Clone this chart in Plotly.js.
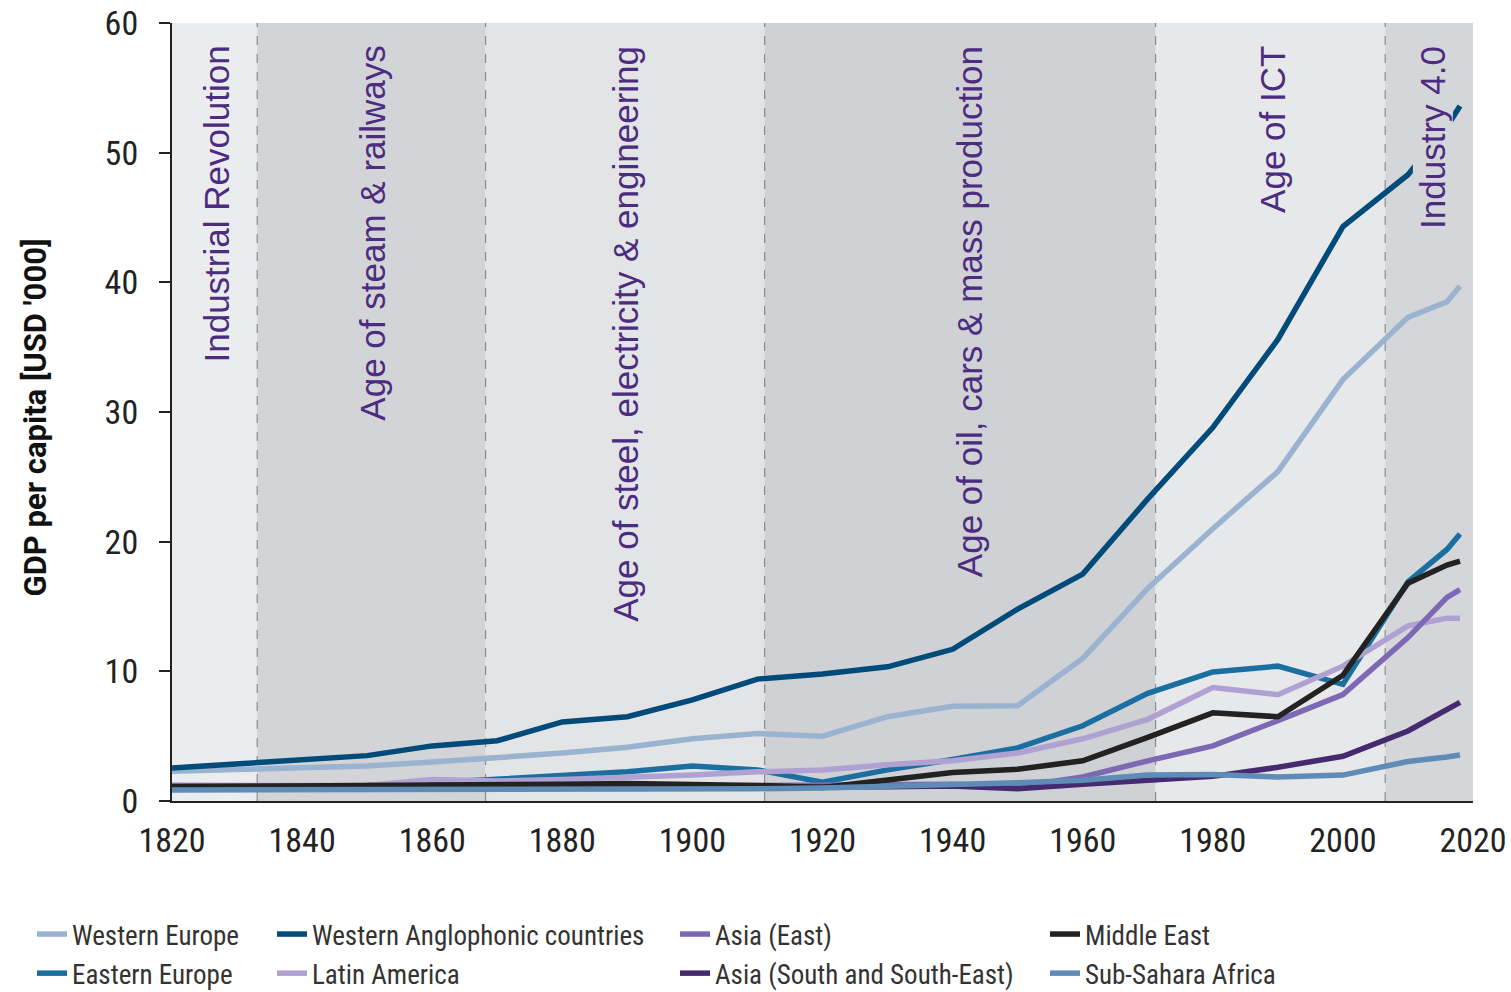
<!DOCTYPE html>
<html>
<head>
<meta charset="utf-8">
<script src="https://cdn.plot.ly/plotly-3.0.1.min.js"></script>
<style>
html,body{margin:0;padding:0;background:#fff;}
#chart{width:1511px;height:992px;}
</style>
</head>
<body>
<div id="chart"></div>
<script>
// ---- data ----
const years = [1820,1850,1860,1870,1880,1890,1900,1910,1920,1930,1940,1950,1960,1970,1980,1990,2000,2010,2016,2018];

const westernEurope     = [2.3,2.7,3.0,3.3,3.7,4.15,4.8,5.2,5.0,6.5,7.3,7.35,11.0,16.4,21.0,25.4,32.5,37.3,38.5,39.7];
const westernAnglophone = [2.55,3.5,4.25,4.65,6.1,6.5,7.8,9.4,9.8,10.35,11.7,14.8,17.5,23.3,28.8,35.6,44.3,48.3,52.0,53.6];
const easternEurope     = [1.0,1.2,1.4,1.7,2.0,2.25,2.7,2.4,1.45,2.4,3.2,4.1,5.8,8.3,9.95,10.4,9.0,16.9,19.4,20.6];
const latinAmerica      = [1.2,1.2,1.65,1.55,1.65,1.8,2.0,2.25,2.4,2.8,3.1,3.7,4.8,6.3,8.75,8.2,10.4,13.5,14.1,14.1];
const asiaEast          = [1.2,1.15,1.1,1.1,1.1,1.1,1.15,1.2,1.2,1.25,1.3,1.1,1.85,3.1,4.25,6.2,8.2,12.6,15.7,16.3];
const asiaSouth         = [1.0,1.0,1.0,1.0,1.0,1.0,1.0,1.05,1.05,1.1,1.15,0.95,1.3,1.55,1.9,2.6,3.45,5.4,7.0,7.6];
const middleEast        = [1.1,1.15,1.2,1.25,1.3,1.35,1.3,1.2,1.05,1.6,2.2,2.45,3.1,4.9,6.8,6.5,9.7,16.8,18.2,18.5];
const subSaharaAfrica   = [0.85,0.85,0.85,0.85,0.9,0.9,0.9,0.95,1.0,1.1,1.2,1.4,1.6,2.0,2.05,1.85,2.0,3.05,3.4,3.55];

const seriesNames = ["Western Europe","Western Anglophonic countries","Eastern Europe","Latin America",
                     "Asia (East)","Asia (South and South-East)","Middle East","Sub-Sahara Africa"];

const eraBounds = [1820,1833.1,1868.2,1911.1,1971.2,2006.5,2020];
const eraLabels = ["Industrial Revolution","Age of steam & railways","Age of steel, electricity & engineering",
                   "Age of oil, cars & mass production","Age of ICT","Industry 4.0"];
const eraLabelX = [1826.8,1850.8,1889.8,1942.5,1989.2,2013.8];

const yTicks = [0,10,20,30,40,50,60];
const xTicks = [1820,1840,1860,1880,1900,1920,1940,1960,1980,2000,2020];
const yTitle = "GDP per capita [USD '000]";

// ---- styles ----
const narrow = "'Liberation Sans Narrow', 'Roboto Condensed', 'Arial Narrow', 'DejaVu Sans Condensed', sans-serif";
const eraColors = ["#ebecee","#d3d4d7","#e3e4e6","#d0d1d4","#e7e8ea","#d5d6d9"];
const styles = [
  {y: westernEurope,     color:"#9ab3d1", legend:"legend"},
  {y: westernAnglophone, color:"#004b7a", legend:"legend2"},
  {y: easternEurope,     color:"#1b6fa0", legend:"legend"},
  {y: latinAmerica,      color:"#b0a1d3", legend:"legend2"},
  {y: asiaEast,          color:"#7d68b3", legend:"legend3"},
  {y: asiaSouth,         color:"#452a70", legend:"legend3"},
  {y: middleEast,        color:"#222222", legend:"legend4"},
  {y: subSaharaAfrica,   color:"#5e8cb6", legend:"legend4"}
];

const traces = styles.map((s,i)=>({
  type:"scatter", mode:"lines", x: years, y: s.y, name: seriesNames[i],
  line:{color:s.color, width:5.5}, legend:s.legend, legendgroup:"g"+i,
  hoverinfo:"skip"
}));

const shapes = [];
for (let i=0;i<eraLabels.length;i++){
  shapes.push({type:"rect", xref:"x", yref:"paper", x0:eraBounds[i], x1:eraBounds[i+1], y0:0, y1:1,
               fillcolor:eraColors[i], line:{width:0}, layer:"below"});
}
for (let i=1;i<eraBounds.length-1;i++){
  shapes.push({type:"line", xref:"x", yref:"paper", x0:eraBounds[i], x1:eraBounds[i], y0:0, y1:1,
               line:{color:"#8a8b8f", width:1.2, dash:"dash"}, layer:"below"});
}

const annotations = eraLabels.map((t,i)=>({
  text:t, xref:"x", yref:"paper", x:eraLabelX[i], y:0.972, xanchor:"center", yanchor:"top",
  textangle:-90, showarrow:false, font:{family:"'Liberation Sans', Arial, sans-serif", size:35, color:"#4b2c80"},
  bgcolor: i===5 ? eraColors[5] : "rgba(0,0,0,0)", borderpad:0
}));
annotations.push({
  text:"<b>"+yTitle+"</b>", xref:"paper", yref:"paper", x:(35-172)/1301, y:0.493,
  xanchor:"center", yanchor:"middle", textangle:-90, showarrow:false,
  font:{family:"Roboto, " + narrow, size:31, color:"#111"}
});

const CW = 1511;
function px2cx(px){ return px/CW; }
const legendBase = {orientation:"v", bgcolor:"rgba(0,0,0,0)", font:{family:narrow, size:27, color:"#333"},
  xref:"container", yref:"container", xanchor:"left", yanchor:"top", y:1-910/992,
  traceorder:"grouped", tracegroupgap:1, itemwidth:30};

const layout = {
  width:1511, height:992,
  margin:{l:172, r:38, t:23, b:191, autoexpand:false},
  paper_bgcolor:"#ffffff", plot_bgcolor:"#e6e7e9",
  showlegend:true,
  xaxis:{range:[1820,2020], tickvals:xTicks, ticktext:xTicks.map(String), showgrid:false, zeroline:false,
         showline:true, linecolor:"#222", linewidth:2, ticks:"", ticklabelstandoff:8,
         tickfont:{family:narrow, size:34, color:"#222"}},
  yaxis:{range:[0,60], tickvals:yTicks, showgrid:false, zeroline:false, showline:true, linecolor:"#222",
         linewidth:2, ticks:"outside", ticklen:11, tickwidth:2, tickcolor:"#222", ticklabelstandoff:14,
         tickfont:{family:narrow, size:34, color:"#222"}},
  legend: Object.assign({}, legendBase, {x:px2cx(32)}),
  legend2: Object.assign({}, legendBase, {x:px2cx(272)}),
  legend3: Object.assign({}, legendBase, {x:px2cx(675)}),
  legend4: Object.assign({}, legendBase, {x:px2cx(1045)}),
  shapes: shapes,
  annotations: annotations
};

Plotly.newPlot("chart", traces, layout, {displayModeBar:false, staticPlot:true});
</script>
</body>
</html>
